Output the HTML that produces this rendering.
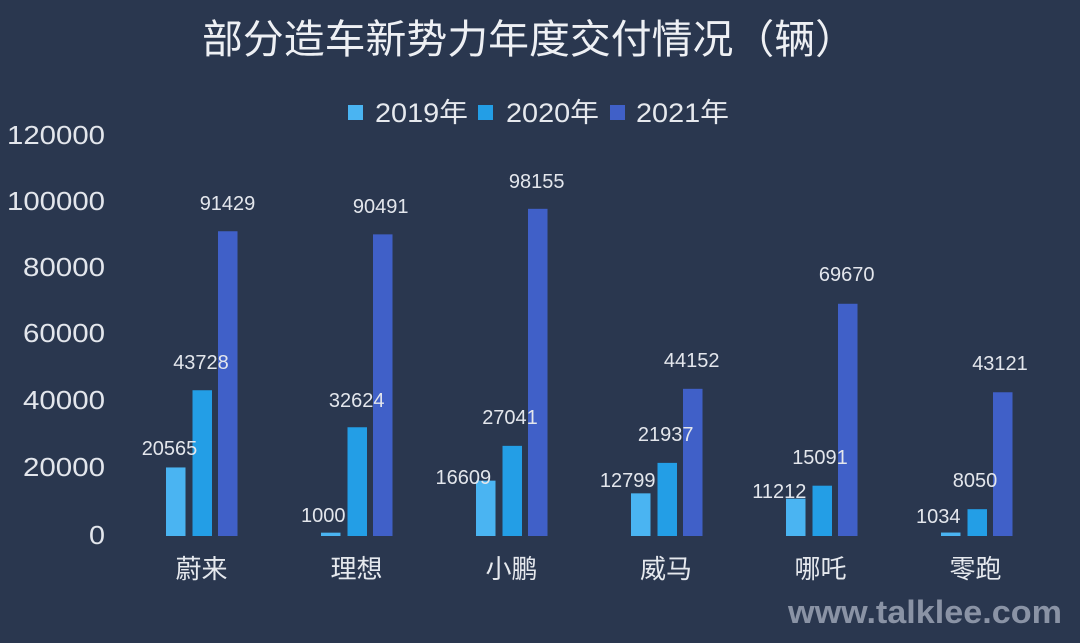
<!DOCTYPE html>
<html>
<head>
<meta charset="utf-8">
<style>
html,body{margin:0;padding:0;background:#2a374f;}
svg{display:block;}
text{font-family:"Liberation Sans","Noto Sans CJK SC",sans-serif;}
</style>
</head>
<body>
<svg width="1080" height="643" viewBox="0 0 1080 643" xmlns="http://www.w3.org/2000/svg">
<rect x="0" y="0" width="1080" height="643" fill="#2a374f"/>

<!-- Title -->
<text x="202" y="53" font-size="40" fill="#eef0f4" textLength="654" lengthAdjust="spacingAndGlyphs">部分造车新势力年度交付情况（辆）</text>

<!-- Legend -->
<rect x="348" y="105" width="15" height="15" fill="#4ab4f2"/>
<text x="375" y="122" font-size="27" fill="#e6e9ee" textLength="93" lengthAdjust="spacingAndGlyphs">2019年</text>
<rect x="478" y="105" width="15" height="15" fill="#239ee6"/>
<text x="506" y="122" font-size="27" fill="#e6e9ee" textLength="93" lengthAdjust="spacingAndGlyphs">2020年</text>
<rect x="610" y="105" width="15" height="15" fill="#4060c8"/>
<text x="636" y="122" font-size="27" fill="#e6e9ee" textLength="93" lengthAdjust="spacingAndGlyphs">2021年</text>

<!-- Y axis labels -->
<g font-size="26" fill="#e3e6ec">
<text x="7" y="144" textLength="98" lengthAdjust="spacingAndGlyphs">120000</text>
<text x="7" y="210" textLength="98" lengthAdjust="spacingAndGlyphs">100000</text>
<text x="23" y="276" textLength="82" lengthAdjust="spacingAndGlyphs">80000</text>
<text x="23" y="342" textLength="82" lengthAdjust="spacingAndGlyphs">60000</text>
<text x="23" y="409" textLength="82" lengthAdjust="spacingAndGlyphs">40000</text>
<text x="23" y="476" textLength="82" lengthAdjust="spacingAndGlyphs">20000</text>
<text x="89" y="544" textLength="16" lengthAdjust="spacingAndGlyphs">0</text>
</g>

<!-- Bars: baseline 536, value/300 px -->
<!-- 蔚来 c=201.5 -->
<rect x="166" y="467.45" width="19.5" height="68.55" fill="#4ab4f2"/>
<rect x="192.5" y="390.24" width="19.5" height="145.76" fill="#239ee6"/>
<rect x="218" y="231.24" width="19.5" height="304.76" fill="#4060c8"/>
<!-- 理想 c=356.5 -->
<rect x="321" y="532.67" width="19.5" height="3.33" fill="#4ab4f2"/>
<rect x="347.5" y="427.25" width="19.5" height="108.75" fill="#239ee6"/>
<rect x="373" y="234.36" width="19.5" height="301.64" fill="#4060c8"/>
<!-- 小鹏 c=511.5 -->
<rect x="476" y="480.64" width="19.5" height="55.36" fill="#4ab4f2"/>
<rect x="502.5" y="445.86" width="19.5" height="90.14" fill="#239ee6"/>
<rect x="528" y="208.82" width="19.5" height="327.18" fill="#4060c8"/>
<!-- 威马 c=666.5 -->
<rect x="631" y="493.34" width="19.5" height="42.66" fill="#4ab4f2"/>
<rect x="657.5" y="462.88" width="19.5" height="73.12" fill="#239ee6"/>
<rect x="683" y="388.83" width="19.5" height="147.17" fill="#4060c8"/>
<!-- 哪吒 c=821.5 -->
<rect x="786" y="498.63" width="19.5" height="37.37" fill="#4ab4f2"/>
<rect x="812.5" y="485.70" width="19.5" height="50.30" fill="#239ee6"/>
<rect x="838" y="303.77" width="19.5" height="232.23" fill="#4060c8"/>
<!-- 零跑 c=976.5 -->
<rect x="941" y="532.55" width="19.5" height="3.45" fill="#4ab4f2"/>
<rect x="967.5" y="509.17" width="19.5" height="26.83" fill="#239ee6"/>
<rect x="993" y="392.26" width="19.5" height="143.74" fill="#4060c8"/>

<!-- Value labels -->
<g font-size="20" fill="#e3e6ec" text-anchor="middle">
<text x="169.5" y="455">20565</text>
<text x="201" y="369">43728</text>
<text x="227.5" y="210">91429</text>
<text x="323.3" y="522">1000</text>
<text x="356.7" y="407">32624</text>
<text x="380.7" y="213">90491</text>
<text x="463.3" y="484">16609</text>
<text x="510" y="424">27041</text>
<text x="536.7" y="188">98155</text>
<text x="627.7" y="487">12799</text>
<text x="665.7" y="441">21937</text>
<text x="691.7" y="367">44152</text>
<text x="779.3" y="498">11212</text>
<text x="820" y="464">15091</text>
<text x="846.7" y="281">69670</text>
<text x="938.3" y="523">1034</text>
<text x="975" y="487">8050</text>
<text x="1000" y="370">43121</text>
</g>

<!-- X axis labels -->
<g font-size="26" fill="#e6e9ee" text-anchor="middle">
<text x="201.5" y="578">蔚来</text>
<text x="356.5" y="578">理想</text>
<text x="511.5" y="578">小鹏</text>
<text x="666" y="578">威马</text>
<text x="820.5" y="578">哪吒</text>
<text x="975.5" y="578">零跑</text>
</g>

<!-- Watermark -->
<text x="788" y="623" font-size="32" font-weight="bold" fill="#8a93a5" textLength="274" lengthAdjust="spacingAndGlyphs">www.talklee.com</text>
</svg>
</body>
</html>
